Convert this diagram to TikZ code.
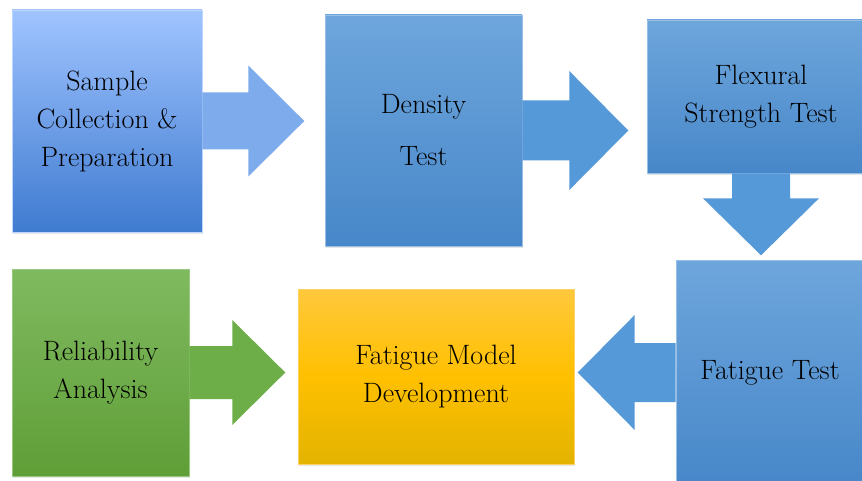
\documentclass[tikz,border=0pt]{standalone}
\usepackage{fontspec}
\usepackage{tikz}
\usetikzlibrary{calc,shadows}
\definecolor{bluetop}{HTML}{A0C4FF}
\definecolor{bluebot}{HTML}{3F7BD0}
\definecolor{midtop}{HTML}{6EA6DC}
\definecolor{midbot}{HTML}{4787C9}
\definecolor{greentop}{HTML}{80BA60}
\definecolor{greenbot}{HTML}{5F9E37}
\definecolor{goldtop}{HTML}{FFC83C}
\definecolor{goldmid}{HTML}{FFC000}
\definecolor{goldbot}{HTML}{E3B300}
\definecolor{arrowlight}{HTML}{7EABEC}
\definecolor{arrowblue}{HTML}{5599D8}
\definecolor{arrowgreen}{HTML}{6DAE48}
% block arrow: colour, start, angle, shaft half, shaft length, head half, head length
\newcommand{\flowarrow}[7]{%
  \fill[#1,rotate=#3] (#2) ++(0,-#4) -- ++(#5,0) -- ++(0,#4-#6) -- ++(#7,#6)
    -- ++(-#7,#6) -- ++(0,#4-#6) -- ++(-#5,0) -- cycle;}

\begin{document}
\begin{tikzpicture}[x=1pt,y=-1pt,
  stagebox/.style={rectangle,inner sep=0pt,align=center,
    font=\rmfamily\fontsize{28}{38}\selectfont\addfontfeatures{LetterSpace=2,FakeBold=0.6},
    drop shadow={opacity=0.2,shadow xshift=1pt,shadow yshift=-2pt}},
  bluebox/.style={stagebox,top color=midtop,bottom color=midbot,draw=midtop!70!white,line width=0.6pt}]
\useasboundingbox (0,0) rectangle (862,481);
\begin{scope}
\clip (0,0) rectangle (862,481);
\node [stagebox,top color=bluetop,bottom color=bluebot,draw=bluetop!70!white,line width=0.6pt,
  minimum width=190pt,minimum height=222pt] (sample) at (107,121) {Sample\\Collection \&\\Preparation};
\node [bluebox,minimum width=197pt,minimum height=231pt] (density) at (423.5,130.5) {Density\\[14pt]Test};
\node [bluebox,minimum width=228pt,minimum height=153pt] (flexural) at (761,96.5) {Flexural\\Strength Test};
\node [bluebox,minimum width=188pt,minimum height=225pt] (fatigue) at (770,372.5) {Fatigue Test};
\node [stagebox,top color=goldtop,bottom color=goldbot,middle color=goldmid,draw=goldtop!80!white,line width=0.6pt,
  minimum width=276pt,minimum height=175pt] (model) at (436,376.5) {Fatigue Model\\Development};
\node [stagebox,top color=greentop,bottom color=greenbot,draw=greentop!80!white,line width=0.6pt,
  minimum width=177pt,minimum height=207pt] (reliab) at (100.5,372.5) {Reliability\\Analysis};

\flowarrow{arrowlight}{sample.east}{0}{28.5}{46}{55.5}{56}
\flowarrow{arrowblue}{density.east}{0}{30}{47}{59.5}{59}
\flowarrow{arrowblue}{flexural.south}{-90}{29}{25}{58}{57}
\flowarrow{arrowblue}{fatigue.west}{180}{29.5}{41}{57.5}{57}
\flowarrow{arrowgreen}{reliab.east}{0}{26.5}{43}{52.5}{53}
\end{scope}
\end{tikzpicture}
\end{document}
